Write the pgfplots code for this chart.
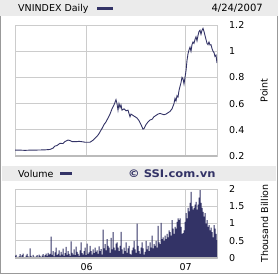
\documentclass[border=0pt]{standalone}
\usepackage{fontspec}
\setmainfont{DejaVu Sans}
\newfontfamily\wideb[FakeStretch=1.1]{DejaVu Sans}
\usepackage{pgfplots}
\pgfplotsset{compat=1.18}
\definecolor{navy}{HTML}{333366}
\definecolor{gridc}{HTML}{CCCCCC}
\definecolor{barbg}{HTML}{EBEBEB}
\definecolor{framec}{HTML}{999999}
\definecolor{basec}{HTML}{BBBBBB}
\begin{document}
\begin{tikzpicture}
\path (0,0) rectangle (278pt,-274pt);
\fill[barbg] (0,0) rectangle (278pt,-16pt);
\draw[framec, line width=1pt] (0.5pt,-16pt) -- (0.5pt,-273.5pt) -- (277.5pt,-273.5pt) -- (277.5pt,-16pt);
\fill[barbg] (2pt,-166pt) rectangle (276pt,-181pt);
\node[anchor=west, inner sep=0pt, font=\fontsize{9.5}{11}\selectfont] at (18pt,-8.5pt) {VNINDEX Daily};
\fill[navy] (97pt,-7pt) rectangle (113pt,-10pt);
\node[anchor=east, inner sep=0pt, font=\fontsize{10}{11}\selectfont] at (263pt,-8.5pt) {4/24/2007};
\node[anchor=west, inner sep=0pt, font=\fontsize{9.5}{11}\selectfont] at (18pt,-173.5pt) {Volume};
\fill[navy] (60pt,-172pt) rectangle (72pt,-175pt);
\node[anchor=west, inner sep=0pt, text=navy, font=\fontsize{10.5}{12}\wideb\bfseries] at (128pt,-173.5pt) {© SSI.com.vn};
\pgfplotsset{base/.style={
  scale only axis, width=202pt, xmin=0, xmax=202,
  axis line style={gridc, line width=0.8pt},
  grid=major, grid style={gridc, line width=0.8pt},
  major tick length=0pt,
  yticklabel pos=right,
  /pgf/number format/assume math mode=true,
  tick label style={font=\fontsize{9.5}{11}\selectfont},
  yticklabel style={anchor=west, inner sep=0pt, xshift=12pt},
  xticklabel style={anchor=north, inner sep=0pt, yshift=-5.3pt},
  xtick={71.7,170.7},
  every axis y label/.style={rotate=90, anchor=center, font=\fontsize{9.5}{11}\selectfont},
  after end axis/.code={\draw[basec, line width=2pt] (rel axis cs:0,0) -- (rel axis cs:1,0);},
}}
\begin{axis}[base, at={(15pt,-25pt)}, anchor=north west, height=131pt,
  ymin=0.2, ymax=1.2, ytick={0.2,0.4,0.6,0.8,1,1.2}, xticklabels={},
  ylabel={Point}, every axis y label/.append style={at={(axis description cs:1.2327,0.5)}}]
\addplot[navy, line width=0.9pt] coordinates {
(0,0.245)(5,0.245)(10,0.243)(15,0.245)(20,0.245)(25,0.246)(30,0.247)(35,0.25)(38,0.26)(40,0.276)(42,0.28)(45,0.297)(48,0.295)(50,0.31)(53,0.322)(55,0.318)(57,0.31)(60,0.31)(62,0.31)(64,0.312)(66,0.31)(68,0.308)(70,0.305)(72,0.305)(75,0.305)(78,0.32)(80,0.335)(82,0.35)(84,0.37)(85,0.385)(87,0.41)(89,0.44)(91,0.46)(93,0.49)(95,0.52)(97,0.56)(99,0.59)(100,0.61)(101,0.63)(102,0.60)(103,0.55)(104,0.60)(105,0.57)(106,0.59)(107,0.55)(109,0.56)(111,0.545)(113,0.55)(115,0.50)(116,0.52)(118,0.51)(120,0.50)(122,0.49)(124,0.47)(126,0.44)(128,0.405)(129,0.41)(131,0.44)(133,0.46)(135,0.475)(137,0.48)(139,0.50)(141,0.51)(143,0.52)(145,0.525)(147,0.52)(149,0.515)(151,0.52)(153,0.53)(155,0.54)(157,0.56)(158,0.58)(159,0.60)(160,0.64)(161,0.62)(162,0.66)(163,0.65)(164,0.70)(165,0.73)(166,0.76)(167,0.80)(168,0.79)(169,0.75)(170,0.80)(171,0.85)(172,0.93)(173,0.98)(174,1.01)(175,1.03)(176,1.00)(177,1.05)(178,1.07)(179,1.06)(180,1.09)(181,1.11)(182,1.08)(183,1.12)(184,1.15)(185,1.16)(186,1.13)(187,1.16)(188,1.175)(189,1.15)(190,1.12)(191,1.09)(192,1.06)(193,1.05)(194,1.07)(195,1.047)(196,1.05)(197,1.02)(198,1.00)(199,0.99)(200,0.96)(201,0.97)(202,0.91)
};
\end{axis}
\begin{axis}[base, at={(15pt,-189pt)}, anchor=north west, height=69pt,
  ymin=0, ymax=2, ytick={0,0.5,1,1.5,2}, xticklabels={06,07},
  ylabel={Thousand Billion}, every axis y label/.append style={at={(axis description cs:1.236,0.5)}}]
\addplot[ybar, bar width=1, bar shift=0pt, fill=navy, draw=none]
 table[x expr=\coordindex, y index=0, header=false, row sep=\\] {
0.06\\0.09\\0.03\\0.00\\0.05\\0.11\\0.04\\0.08\\0.13\\0.02\\
0.00\\0.07\\0.12\\0.05\\0.03\\0.28\\0.06\\0.02\\0.09\\0.04\\
0.00\\0.05\\0.08\\0.03\\0.10\\0.06\\0.02\\0.07\\0.11\\0.04\\
0.08\\0.13\\0.06\\0.15\\0.10\\0.12\\0.62\\0.09\\0.20\\0.05\\
0.16\\0.30\\0.08\\0.12\\0.22\\0.07\\0.18\\0.10\\0.27\\0.06\\
0.14\\0.32\\0.09\\0.20\\0.12\\0.06\\0.48\\0.15\\0.10\\0.25\\
0.08\\0.33\\0.18\\0.12\\0.06\\0.22\\0.45\\0.14\\0.10\\0.20\\
0.30\\0.08\\0.42\\0.12\\0.16\\0.35\\0.20\\0.10\\0.25\\0.14\\
0.30\\0.18\\0.22\\0.12\\0.34\\0.20\\0.26\\0.10\\0.82\\0.28\\
0.40\\0.22\\0.55\\0.35\\0.30\\0.15\\0.58\\0.25\\0.75\\0.30\\
0.22\\0.42\\0.45\\0.30\\0.20\\0.35\\0.76\\0.25\\0.12\\0.30\\
0.20\\0.45\\0.15\\0.28\\0.35\\0.12\\0.10\\0.22\\0.30\\0.50\\
0.25\\0.15\\1.00\\0.35\\0.20\\0.12\\0.30\\0.45\\0.28\\0.10\\
0.18\\0.50\\0.25\\0.35\\0.20\\0.45\\0.30\\0.65\\0.28\\0.40\\
0.35\\0.50\\0.30\\0.93\\0.45\\0.40\\1.02\\0.55\\0.60\\0.50\\
0.65\\0.55\\0.70\\0.60\\0.80\\0.75\\0.65\\1.10\\0.85\\0.70\\
0.90\\0.85\\1.05\\1.15\\1.10\\1.15\\0.90\\0.70\\0.72\\0.80\\
1.05\\1.30\\1.15\\1.45\\1.35\\1.60\\1.92\\1.50\\1.40\\1.45\\
1.55\\1.63\\1.40\\1.55\\1.75\\1.97\\1.60\\1.45\\1.34\\1.20\\
1.30\\1.00\\1.10\\0.90\\0.95\\0.80\\0.88\\0.75\\0.60\\0.95\\
0.85\\0.70\\0.52\\
};
\end{axis}
\end{tikzpicture}
\end{document}
